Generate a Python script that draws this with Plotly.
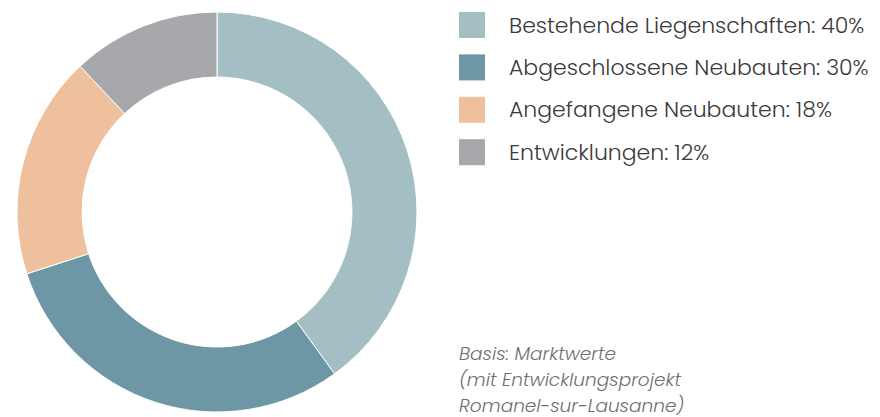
import plotly.graph_objects as go

labels = ["Bestehende Liegenschaften", "Abgeschlossene Neubauten", "Angefangene Neubauten", "Entwicklungen"]
values = [40, 30, 18, 12]
colors = ["#A3BFC3", "#6E97A5", "#EEC09D", "#A7A8AC"]
note_lines = ["Basis: Marktwerte", "(mit Entwicklungsprojekt", "Romanel-sur-Lausanne)"]

# page body margin of 8px offsets the figure; work in figure coordinates
OFF = 8
W, H = 872, 409


def px(x):
    return (x - OFF) / W


def py(y):
    return 1 - (y - OFF) / H


fig = go.Figure(go.Pie(
    labels=labels, values=values, hole=0.675, sort=False, direction="clockwise",
    rotation=0, marker=dict(colors=colors, line=dict(color="white", width=1)),
    textinfo="none", hoverinfo="label+percent", showlegend=False,
    domain=dict(x=[px(17), px(417)], y=[py(412), py(12)]),
))

font_family = "Poppins, Inter, 'Open Sans', sans-serif"
shapes = []
annotations = []
for i, (lab, val, col) in enumerate(zip(labels, values, colors)):
    top = 12 + i * 42.4
    shapes.append(dict(type="rect", xref="paper", yref="paper",
                       x0=px(459), x1=px(485), y0=py(top + 26), y1=py(top),
                       fillcolor=col, line=dict(width=0)))
    annotations.append(dict(xref="paper", yref="paper", x=px(507), y=py(top + 13),
                            xanchor="left", yanchor="middle", showarrow=False,
                            text=f"{lab}: {val}%",
                            font=dict(family=font_family, size=22, color="#3a3a3a", weight=300)))

for j, line in enumerate(note_lines):
    annotations.append(dict(xref="paper", yref="paper", x=px(457), y=py(353 + j * 26),
                            xanchor="left", yanchor="middle", showarrow=False,
                            text=f"<i>{line}</i>",
                            font=dict(family=font_family, size=18.5, color="#6f6f6f", weight=300)))

fig.update_layout(width=W, height=H, margin=dict(l=0, r=0, t=0, b=0),
                  paper_bgcolor="white", plot_bgcolor="white",
                  shapes=shapes, annotations=annotations)
fig.write_html("out.html")
